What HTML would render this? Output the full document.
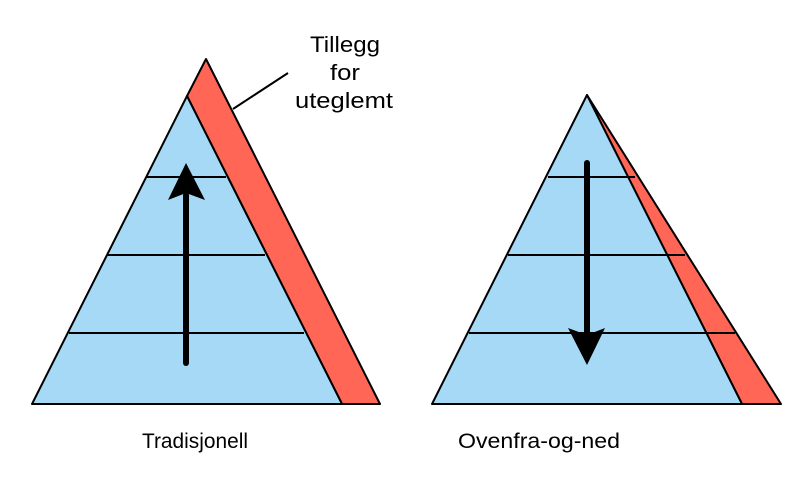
<!DOCTYPE html>
<html><head><meta charset="utf-8"><style>html,body{margin:0;padding:0;background:#fff}svg{display:block}</style></head><body>
<svg width="805" height="497" viewBox="0 0 805 497" xmlns="http://www.w3.org/2000/svg" font-family="'Liberation Sans', sans-serif" font-size="21" fill="#000">
<rect width="805" height="497" fill="#fff"/>
<polygon points="187,96 206,59 380,404 342,404" fill="#ff6655" stroke="#000" stroke-width="2" stroke-linejoin="round"/>
<polygon points="187,96 342,404 32,404" fill="#a6d9f5" stroke="#000" stroke-width="2" stroke-linejoin="round"/>
<line x1="147" y1="177" x2="226" y2="177" stroke="#000" stroke-width="2"/>
<line x1="107" y1="255" x2="265" y2="255" stroke="#000" stroke-width="2"/>
<line x1="69" y1="333" x2="304" y2="333" stroke="#000" stroke-width="2"/>
<line x1="186" y1="363" x2="186" y2="195" stroke="#000" stroke-width="6" stroke-linecap="round"/>
<polygon points="186,163 168,200 186,193 205,200" fill="#000"/>
<line x1="233" y1="109" x2="288" y2="73" stroke="#000" stroke-width="2"/>
<text x="345" y="52" text-anchor="middle" font-size="22" textLength="70" lengthAdjust="spacingAndGlyphs">Tillegg</text>
<text x="345" y="80" text-anchor="middle" font-size="22" textLength="30" lengthAdjust="spacingAndGlyphs">for</text>
<text x="344" y="108" text-anchor="middle" font-size="22" textLength="98" lengthAdjust="spacingAndGlyphs">uteglemt</text>
<text x="195" y="448" text-anchor="middle" textLength="106" lengthAdjust="spacingAndGlyphs">Tradisjonell</text>
<polygon points="587,95 781,404 742,404" fill="#ff6655" stroke="#000" stroke-width="2" stroke-linejoin="round"/>
<polygon points="587,95 742,404 432,404" fill="#a6d9f5" stroke="#000" stroke-width="2" stroke-linejoin="round"/>
<line x1="548" y1="177" x2="635" y2="177" stroke="#000" stroke-width="2"/>
<line x1="508" y1="255" x2="685" y2="255" stroke="#000" stroke-width="2"/>
<line x1="469" y1="333" x2="735" y2="333" stroke="#000" stroke-width="2"/>
<line x1="587" y1="163" x2="587" y2="335" stroke="#000" stroke-width="6" stroke-linecap="round"/>
<polygon points="587,365 568,328 587,335 605,328" fill="#000"/>
<text x="539" y="448" text-anchor="middle" textLength="162" lengthAdjust="spacingAndGlyphs">Ovenfra-og-ned</text>
</svg>
</body></html>
